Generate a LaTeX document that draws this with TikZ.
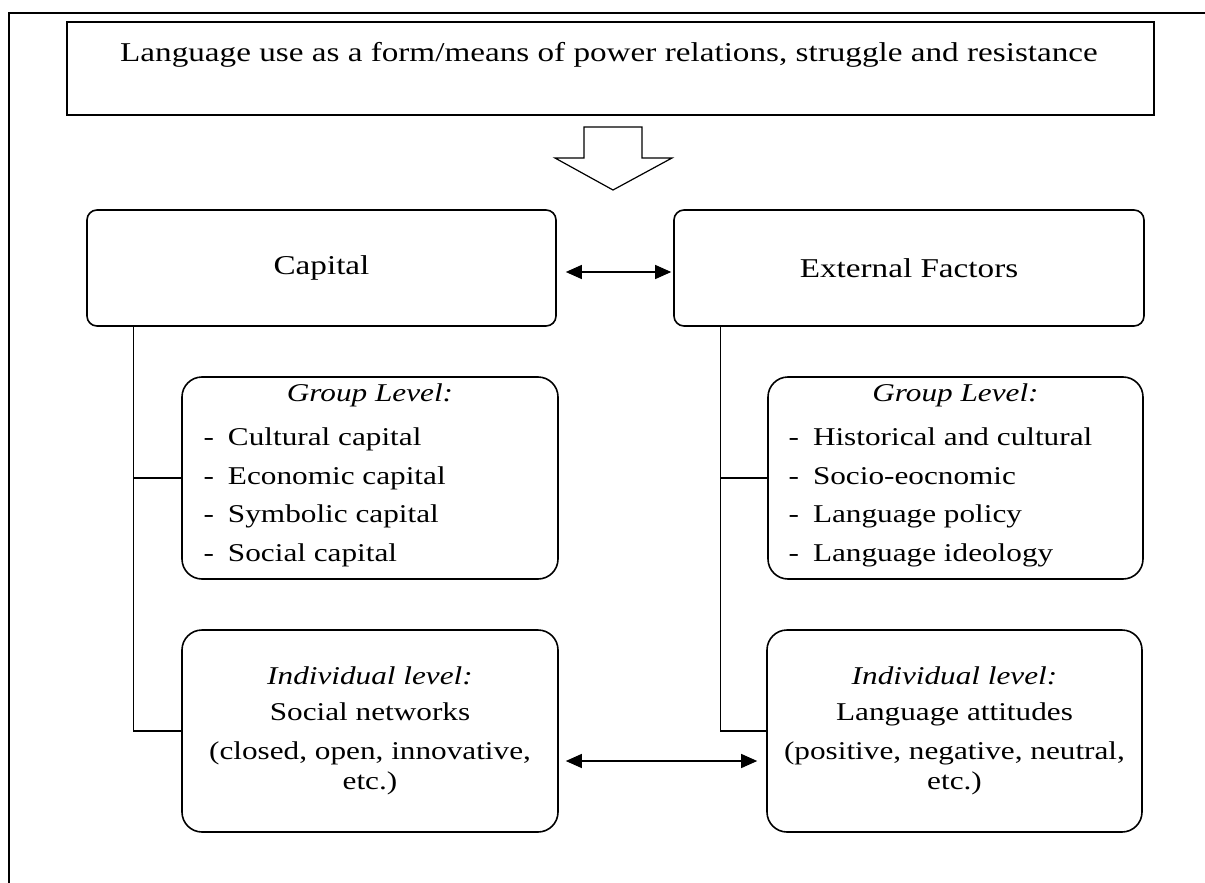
\documentclass[tikz,border=0pt]{standalone}
\usepackage{fontspec}
\setmainfont{Liberation Serif}[FakeStretch=1.22]
\usetikzlibrary{arrows.meta,positioning,calc}

\begin{document}
\begin{tikzpicture}[x=0.5pt,y=-0.5pt,line width=0.6pt,
   >={Triangle[length=8pt,width=7pt]},
   sqbox/.style={draw,line width=0.8pt,inner sep=0pt},
   rbox/.style={draw,line width=0.8pt,rounded corners=#1,inner sep=0pt},
   rbox/.default=10pt,
   bigtxt/.style={font=\fontsize{13.6}{16}\selectfont},
   smalltxt/.style={font=\fontsize{12.8}{19.25}\selectfont},
   hdtxt/.style={font=\fontsize{12.8}{19.25}\selectfont\itshape}]
  \useasboundingbox (0,0) rectangle (1205,883);
  % frame
  \draw[line width=0.7pt] (9,883) -- (9,13) -- (1205,13);
  % top box
  \node[sqbox,minimum width=543.5pt,minimum height=46.5pt] (top) at (610.5,68.5) {};
  \node[bigtxt] (toptxt) at (609,55) {Language use as a form/means of power relations, struggle and resistance};
  \draw (584,127) -- (642,127) -- (642,158) -- (672,158) -- (613,190) -- (555,158) -- (584,158) -- cycle;
  % main boxes
  \node[rbox=5pt,bigtxt,minimum width=234.5pt,minimum height=58pt] (cap) at (321.5,268) {Capital};
  \node[rbox=5pt,bigtxt,minimum width=235pt,minimum height=58pt] (ext) at (909,268) {External Factors};
  % group level
  \node[rbox,minimum width=188pt,minimum height=101pt] (capgrp) at (370,478) {};
  \node[hdtxt] (capgrphd) at (370,395) {Group Level:};
  \node[smalltxt,align=left,anchor=west,inner sep=0pt] (capgrplist) at (203,497.5)
    {-\hspace{7pt}Cultural capital\\ -\hspace{7pt}Economic capital\\
     -\hspace{7pt}Symbolic capital\\ -\hspace{7pt}Social capital};
  \node[rbox,minimum width=187.5pt,minimum height=101pt] (extgrp) at (955.5,478) {};
  \node[hdtxt] (extgrphd) at (955.5,395) {Group Level:};
  \node[smalltxt,align=left,anchor=west,inner sep=0pt] (extgrplist) at (788,497.5)
    {-\hspace{7pt}Historical and cultural\\ -\hspace{7pt}Socio-eocnomic\\
     -\hspace{7pt}Language policy\\ -\hspace{7pt}Language ideology};
  % individual level
  \node[rbox,smalltxt,align=center,minimum width=188pt,minimum height=101pt] (capind) at (370,731)
    {\textit{Individual level:}\\[-1.25pt] Social networks\\[0.25pt]
     (closed, open, innovative,\\[-4pt] etc.)};
  \node[rbox,smalltxt,align=center,minimum width=187.5pt,minimum height=101pt] (extind) at (954.5,731)
    {\textit{Individual level:}\\[-1.25pt] Language attitudes\\[0.25pt]
     (positive, negative, neutral,\\[-4pt] etc.)};
  % connectors
  \draw ($(cap.south west)+(47,0)$) |- (capind.west);
  \draw (capgrp.west) -- ++(-48,0);
  \draw ($(ext.south west)+(47,0)$) |- (extind.west);
  \draw (extgrp.west) -- ++(-47,0);
  \draw[<->,shorten <=4.5pt,shorten >=1pt] ([yshift=-2pt]cap.east) -- ([yshift=-2pt]ext.west);
  \draw[<->,shorten <=3.5pt,shorten >=4.5pt] ([yshift=-15pt]capind.east) -- ([yshift=-15pt]extind.west);
\end{tikzpicture}
\end{document}
